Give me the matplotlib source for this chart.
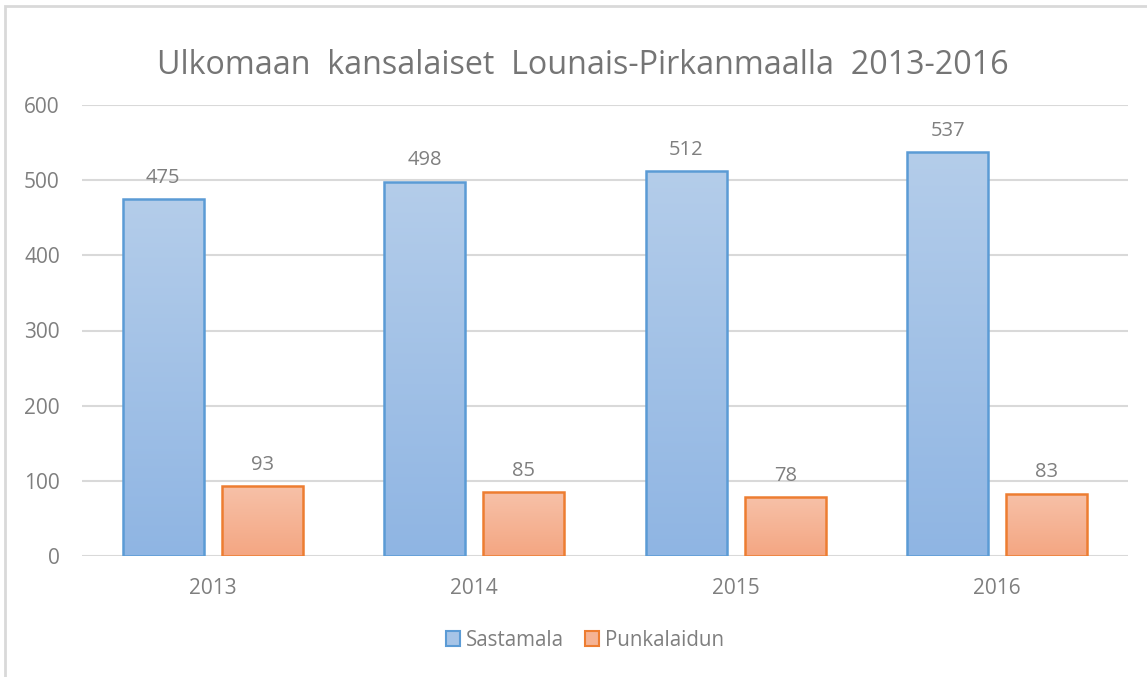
import matplotlib
matplotlib.use("Agg")
import matplotlib.pyplot as plt
import numpy as np
from matplotlib.patches import Rectangle, Patch
from matplotlib.colors import LinearSegmentedColormap

years = ["2013", "2014", "2015", "2016"]
sastamala = [475, 498, 512, 537]
punkalaidun = [93, 85, 78, 83]
series_names = ["Sastamala", "Punkalaidun"]
title = "Ulkomaan  kansalaiset  Lounais-Pirkanmaalla  2013-2016"

plt.rcParams['font.family'] = ['Open Sans', 'DejaVu Sans']
txt = "#7F7F7F"
grid = "#D9D9D9"

W, H = 1147, 677
fig = plt.figure(figsize=(W/100, H/100), dpi=100)
ax = fig.add_axes([82/W, 1-556/H, (1128-82)/W, (556-105)/H])

x = np.arange(len(years))
bw = 0.31
off = 0.19
styles = [
    (sastamala, -off, "#B4CDEA", "#8FB5E3", "#5B9BD5"),
    (punkalaidun, off, "#F7C1A8", "#F4A682", "#ED7D31"),
]
ax.set_xlim(-0.5, len(years)-0.5)
ax.set_ylim(0, 600)
for vals, o, ctop, cbot, edge in styles:
    cmap = LinearSegmentedColormap.from_list("g", [cbot, ctop])
    bars = ax.bar(x + o, vals, bw, facecolor="none", edgecolor=edge, linewidth=1.8, zorder=3)
    for b, v in zip(bars, vals):
        x0 = b.get_x(); x1 = x0 + b.get_width()
        grad = np.linspace(0, 1, 256).reshape(-1, 1)
        im = ax.imshow(grad, cmap=cmap, aspect="auto", origin="lower",
                       extent=(x0, x1, 0, v), zorder=2)
        im.set_clip_path(b)
        ax.text(b.get_x() + b.get_width()/2, v + 15, str(v), ha="center", va="bottom",
                fontsize=14.5, color=txt)
ax.set_xlim(-0.5, len(years)-0.5)
ax.set_ylim(0, 600)
ax.set_yticks(range(0, 601, 100))
ax.set_xticks(x)
ax.set_xticklabels(years)
ax.tick_params(length=0, labelsize=15, labelcolor=txt)
ax.tick_params(axis="x", pad=16)
ax.tick_params(axis="y", pad=16)
ax.grid(axis="y", color=grid, linewidth=1.5, zorder=0)
ax.set_axisbelow(True)
for s in ax.spines.values():
    s.set_visible(False)

fig.text(583/W, 1-66/H, title, ha="center", va="center", fontsize=23.2, color="#757575")

handles = [Patch(facecolor="#A6C4E7", edgecolor="#5B9BD5", linewidth=1.5),
           Patch(facecolor="#F5B394", edgecolor="#ED7D31", linewidth=1.5)]
fig.legend(handles, series_names, loc="center", bbox_to_anchor=(585/W, 1-640/H), ncol=2,
           frameon=False, fontsize=14.8, labelcolor=txt, handlelength=0.7, handleheight=0.7,
           handletextpad=0.3, columnspacing=1.0)

fig.patches.append(Rectangle((5/W, -0.1), 1.2, 1-6/H+0.1, transform=fig.transFigure,
                             fill=False, edgecolor=grid, linewidth=2, figure=fig))

fig.savefig("out.png", dpi=100)
